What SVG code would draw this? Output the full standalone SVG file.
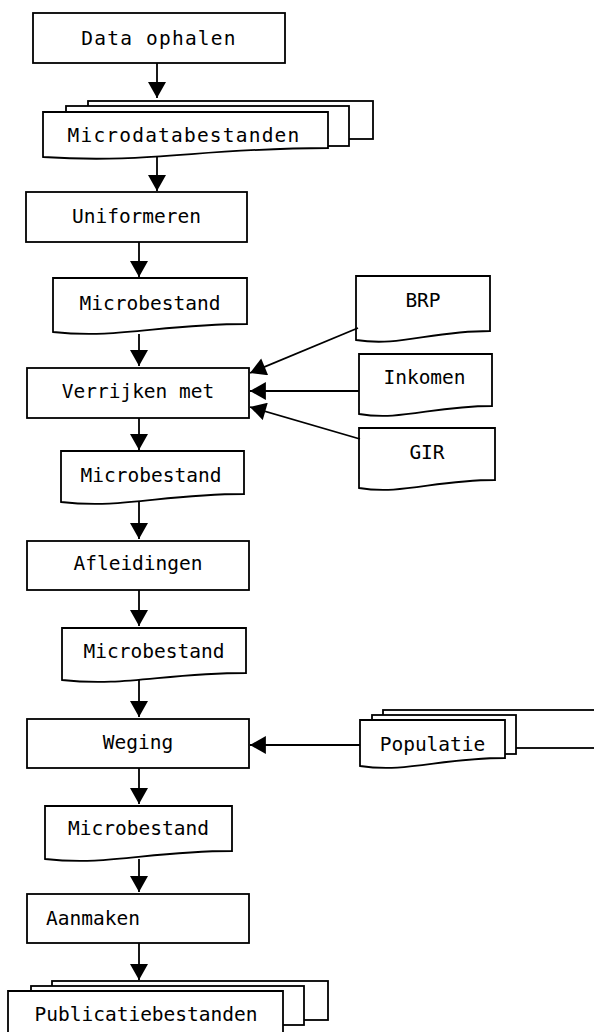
<svg xmlns="http://www.w3.org/2000/svg" width="594" height="1032" viewBox="0 0 594 1032">
<defs>
<style>
.b{fill:#fff;stroke:#000;stroke-width:1.8}
.t{font-family:"DejaVu Sans Mono","Liberation Mono",monospace;font-size:19.5px;fill:#000;text-anchor:middle}
.w{letter-spacing:1.2px}
.c{stroke:#000;stroke-width:1.8;fill:none;marker-end:url(#ah)}
</style>
<marker id="ah" markerUnits="userSpaceOnUse" markerWidth="18" markerHeight="18" viewBox="0 0 15 17" refX="15" refY="8.5" orient="auto">
<path d="M0,0 L15,8.5 L0,17 Z" fill="#000"/>
</marker>
</defs>
<rect width="594" height="1032" fill="#fff"/>

<g id="data-ophalen">
<rect class="b" x="33" y="13" width="252" height="50"/>
<text class="t w" x="159" y="45">Data ophalen</text>
</g>

<g id="microdatabestanden">
<rect class="b" x="88" y="101" width="285" height="38"/>
<rect class="b" x="66" y="106" width="283" height="40"/>
<path class="b" d="M43,112 H328 V148 C200,148 150,164 43,157 Z"/>
<text class="t w" x="184" y="142">Microdatabestanden</text>
</g>

<g id="uniformeren">
<rect class="b" x="26" y="192" width="221" height="50"/>
<text class="t" x="136.5" y="223">Uniformeren</text>
</g>

<g id="microbestand-1">
<path class="b" d="M53,278 H247 V324 C160,324 120,339 53,332 Z"/>
<text class="t" x="150" y="310">Microbestand</text>
</g>

<g id="verrijken-met">
<rect class="b" x="27" y="368" width="222" height="50"/>
<text class="t" x="138" y="398">Verrijken met</text>
</g>

<g id="brp">
<path class="b" d="M356,276 H490 V331 C430,331 400,347 356,340 Z"/>
<text class="t" x="423" y="307">BRP</text>
</g>

<g id="inkomen">
<path class="b" d="M359,354 H492 V406 C432,406 402,421 359,414 Z"/>
<text class="t" x="424.5" y="384">Inkomen</text>
</g>

<g id="gir">
<path class="b" d="M359,428 H495 V480 C434,480 403,495 359,488 Z"/>
<text class="t" x="427" y="459">GIR</text>
</g>

<g id="microbestand-2">
<path class="b" d="M61,451 H244 V494 C162,494 124,509 61,502 Z"/>
<text class="t" x="151" y="482">Microbestand</text>
</g>

<g id="afleidingen">
<rect class="b" x="27" y="541" width="222" height="49"/>
<text class="t" x="138" y="570">Afleidingen</text>
</g>

<g id="microbestand-3">
<path class="b" d="M62,628 H246 V673 C164,673 125,687 62,680 Z"/>
<text class="t" x="154" y="658">Microbestand</text>
</g>

<g id="weging">
<rect class="b" x="27" y="719" width="222" height="49"/>
<text class="t" x="138" y="749">Weging</text>
</g>

<g id="populatie">
<rect class="b" x="383" y="710" width="220" height="38"/>
<rect class="b" x="372" y="715" width="144" height="39"/>
<path class="b" d="M360,720 H505 V758 C440,758 408,773 360,766 Z"/>
<text class="t" x="432.5" y="751">Populatie</text>
</g>

<g id="microbestand-4">
<path class="b" d="M45,806 H232 V851 C148,851 110,866 45,859 Z"/>
<text class="t" x="138.5" y="835">Microbestand</text>
</g>

<g id="aanmaken">
<rect class="b" x="27" y="894" width="222" height="49"/>
<text class="t" x="46" y="925" style="text-anchor:start">Aanmaken</text>
</g>

<g id="publicatiebestanden">
<rect class="b" x="52" y="981" width="276" height="39"/>
<rect class="b" x="31" y="986" width="273" height="39"/>
<path class="b" d="M8,991 H283 V1034 C190,1034 140,1048 8,1042 Z"/>
<text class="t" x="146" y="1021">Publicatiebestanden</text>
</g>

<g id="connectors">
<line class="c" x1="157" y1="63" x2="157" y2="98"/>
<line class="c" x1="157" y1="157" x2="157" y2="191"/>
<line class="c" x1="139" y1="242" x2="139" y2="277"/>
<line class="c" x1="139" y1="334" x2="139" y2="366"/>
<line class="c" x1="139" y1="418" x2="139" y2="450"/>
<line class="c" x1="139" y1="502" x2="139" y2="539"/>
<line class="c" x1="139" y1="590" x2="139" y2="626"/>
<line class="c" x1="139" y1="680" x2="139" y2="717"/>
<line class="c" x1="139" y1="768" x2="139" y2="804"/>
<line class="c" x1="139" y1="859" x2="139" y2="892"/>
<line class="c" x1="139" y1="943" x2="139" y2="980"/>
<line class="c" x1="358" y1="328" x2="250" y2="373"/>
<line class="c" x1="359" y1="391" x2="250" y2="391"/>
<line class="c" x1="360" y1="439" x2="250" y2="407"/>
<line class="c" x1="360" y1="745" x2="250" y2="745"/>
</g>
</svg>
